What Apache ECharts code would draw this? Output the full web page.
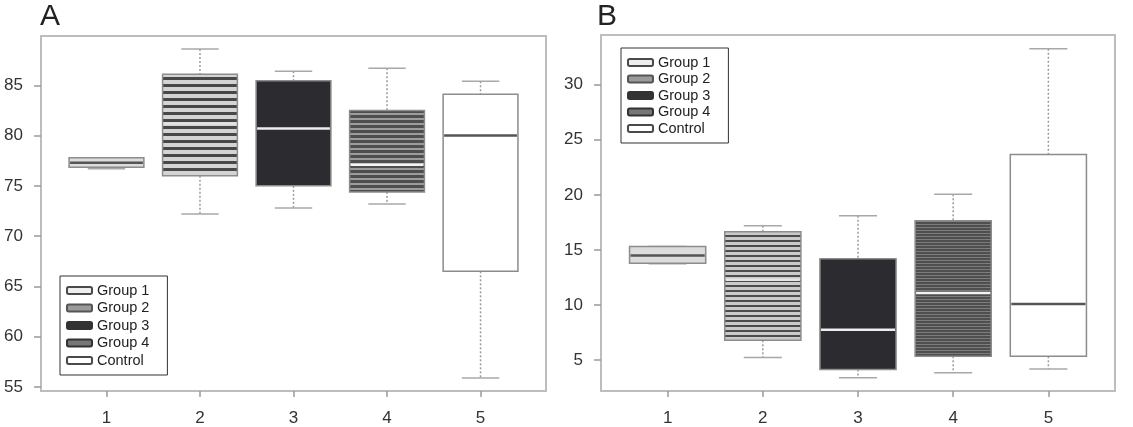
<!DOCTYPE html>
<html>
<head>
<meta charset="utf-8">
<script src="https://cdn.jsdelivr.net/npm/echarts@6/dist/echarts.min.js"></script>
<style>
html,body{margin:0;padding:0;background:#fff;}
#chart{width:1133px;height:427px;}
</style>
</head>
<body>
<div id="chart"></div>
<script>
// ---- data ----
const categories = [1, 2, 3, 4, 5];
const groups = ['Group 1', 'Group 2', 'Group 3', 'Group 4', 'Control'];
const yTicksA = [55, 60, 65, 70, 75, 80, 85];
const yTicksB = [5, 10, 15, 20, 25, 30];

// Panel A: whisker low, Q1, median, Q3, whisker high
const minA = [76.7, 72.2, 72.8, 73.2, 55.9];
const q1A  = [76.85, 76.0, 75.0, 74.4, 66.5];
const medA = [77.3, 81.2, 80.7, 77.1, 80.0];
const q3A  = [77.8, 86.1, 85.45, 82.5, 84.1];
const maxA = [77.8, 88.6, 86.4, 86.7, 85.4];

// Panel B
const minB = [13.75, 5.25, 3.4, 3.85, 4.2];
const q1B  = [13.8, 6.8, 4.15, 5.35, 5.35];
const medB = [14.5, 12.3, 7.75, 11.1, 10.1];
const q3B  = [15.3, 16.65, 14.2, 17.65, 23.65];
const maxB = [15.3, 17.2, 18.1, 20.05, 33.25];

// ---- styles ----
function stripe(period, darkH, dark, light) {
  const c = document.createElement('canvas');
  c.width = 4; c.height = period;
  const ctx = c.getContext('2d');
  ctx.fillStyle = light; ctx.fillRect(0, 0, 4, period);
  ctx.fillStyle = dark; ctx.fillRect(0, 0, 4, darkH);
  return { image: c, repeat: 'repeat' };
}
const fillsA = ['#dcdcdc', stripe(7, 3, '#484848', '#d4d4d4'), '#2b2b30', stripe(5, 3, '#4e4e4e', '#9c9c9c'), '#ffffff'];
const fillsB = ['#dcdcdc', stripe(5, 2, '#4c4c4c', '#cacaca'), '#2b2b30', stripe(3, 2, '#4f4f4f', '#7c7c7c'), '#ffffff'];
const medColors = ['#555555', '#e4e4e4', '#eeeeee', '#f4f4f4', '#555555'];
const keyFill = ['#eeeeee', '#9a9a9a', '#333333', '#777777', '#ffffff'];
const keyBorder = ['#4a4a4a', '#555555', '#333333', '#333333', '#4a4a4a'];

function makeRender(gi, fills) {
  return function (params, api) {
    const x = api.value(0);
    const pMin = api.coord([x, api.value(1)]);
    const pQ1 = api.coord([x, api.value(2)]);
    const pMed = api.coord([x, api.value(3)]);
    const pQ3 = api.coord([x, api.value(4)]);
    const pMax = api.coord([x, api.value(5)]);
    const w = api.size([0.8, 0])[0];
    const cx = pMed[0];
    const whisk = { stroke: '#9a9a9a', lineWidth: 1.5, lineDash: [2, 2] };
    const capS = { stroke: '#a8a8a8', lineWidth: 1.5 };
    return {
      type: 'group',
      children: [
        { type: 'line', shape: { x1: cx, y1: pMax[1], x2: cx, y2: pQ3[1] }, style: whisk },
        { type: 'line', shape: { x1: cx, y1: pQ1[1], x2: cx, y2: pMin[1] }, style: whisk },
        { type: 'line', shape: { x1: cx - w / 4, y1: pMax[1], x2: cx + w / 4, y2: pMax[1] }, style: capS },
        { type: 'line', shape: { x1: cx - w / 4, y1: pMin[1], x2: cx + w / 4, y2: pMin[1] }, style: capS },
        { type: 'rect', shape: { x: cx - w / 2, y: pQ3[1], width: w, height: pQ1[1] - pQ3[1] },
          style: { fill: fills[gi], stroke: '#8c8c8c', lineWidth: 1.5 } },
        { type: 'line', shape: { x1: cx - w / 2 + 1, y1: pMed[1], x2: cx + w / 2 - 1, y2: pMed[1] },
          style: { stroke: medColors[gi], lineWidth: 2.5 } }
      ]
    };
  };
}

const series = [];
groups.forEach(function (g, i) {
  series.push({
    type: 'custom', name: g, xAxisIndex: 0, yAxisIndex: 0,
    itemStyle: { color: keyFill[i] },
    renderItem: makeRender(i, fillsA),
    encode: { x: 0, y: [1, 2, 3, 4, 5] },
    data: [[categories[i], minA[i], q1A[i], medA[i], q3A[i], maxA[i]]]
  });
  series.push({
    type: 'custom', name: g, xAxisIndex: 1, yAxisIndex: 1,
    itemStyle: { color: keyFill[i] },
    renderItem: makeRender(i, fillsB),
    encode: { x: 0, y: [1, 2, 3, 4, 5] },
    data: [[categories[i], minB[i], q1B[i], medB[i], q3B[i], maxB[i]]]
  });
});

const font = "'Liberation Sans', Arial, Helvetica, sans-serif";

function xAxis(gridIndex) {
  return {
    type: 'value', gridIndex: gridIndex, min: 0.3, max: 5.7,
    axisLine: { show: false },
    splitLine: { show: false },
    axisTick: { show: true, length: 6, customValues: categories, lineStyle: { color: '#9a9a9a', width: 1.5 } },
    axisLabel: { customValues: categories, margin: 19, fontSize: 17, color: '#333', fontFamily: font,
      formatter: function (v) { return String(v); } }
  };
}
function yAxis(gridIndex, min, max, ticks) {
  return {
    type: 'value', gridIndex: gridIndex, min: min, max: max,
    axisLine: { show: false },
    splitLine: { show: false },
    axisTick: { show: true, length: 7, customValues: ticks, lineStyle: { color: '#9a9a9a', width: 1.5 } },
    axisLabel: { customValues: ticks, margin: 18, fontSize: 17, color: '#333', fontFamily: font,
      formatter: function (v) { return String(v); } }
  };
}

function legend(left, top, gap) {
  return {
    orient: 'vertical', left: left, top: top,
    selectedMode: false,
    icon: 'roundRect', itemWidth: 25, itemHeight: 7, itemGap: gap,
    padding: [7, 18, 7, 6],
    borderColor: '#333', borderWidth: 1, borderRadius: 0,
    backgroundColor: '#fff',
    textStyle: { fontSize: 14.5, color: '#222', fontFamily: font, lineHeight: 15 },
    data: groups.map(function (g, i) {
      return { name: g, itemStyle: { color: keyFill[i], borderColor: keyBorder[i], borderWidth: 2 } };
    })
  };
}

const option = {
  animation: false,
  title: [
    { text: 'A', left: 40, top: 2, padding: 0, textStyle: { fontSize: 30, fontWeight: 'normal', color: '#222', fontFamily: font } },
    { text: 'B', left: 597, top: 2, padding: 0, textStyle: { fontSize: 30, fontWeight: 'normal', color: '#222', fontFamily: font } }
  ],
  grid: [
    { left: 41, top: 36, width: 505, height: 355, show: true, borderColor: '#bdbdbd', borderWidth: 2, backgroundColor: 'transparent' },
    { left: 601, top: 35, width: 514, height: 356, show: true, borderColor: '#bdbdbd', borderWidth: 2, backgroundColor: 'transparent' }
  ],
  xAxis: [xAxis(0), xAxis(1)],
  yAxis: [yAxis(0, 54.6, 89.9, yTicksA), yAxis(1, 2.2, 34.5, yTicksB)],
  legend: [legend(60, 276, 2.5), legend(621, 48, 1.5)],
  series: series
};

const chart = echarts.init(document.getElementById('chart'), null, { renderer: 'canvas' });
chart.setOption(option);
</script>
</body>
</html>
